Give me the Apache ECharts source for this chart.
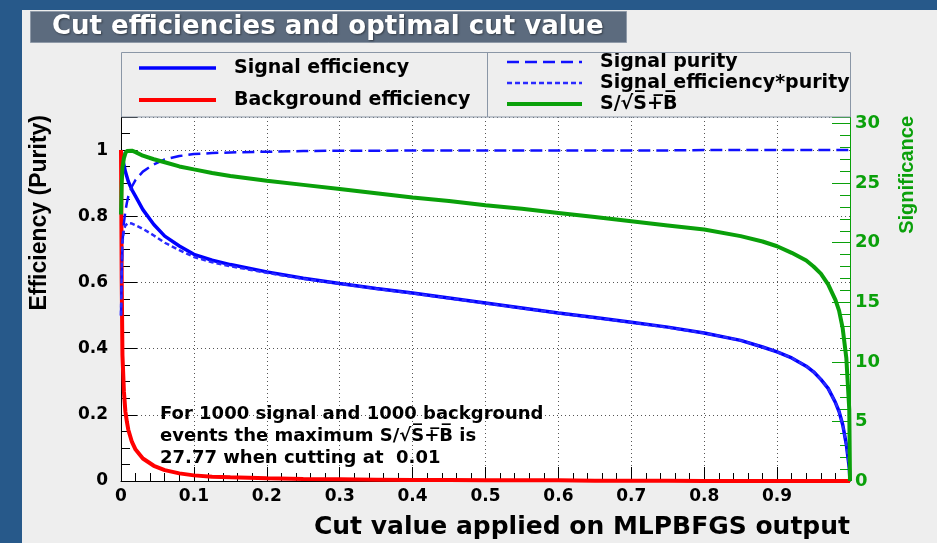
<!DOCTYPE html>
<html>
<head>
<meta charset="utf-8">
<title>Cut efficiencies and optimal cut value</title>
<script src="https://cdn.jsdelivr.net/npm/echarts@6/dist/echarts.min.js"></script>
<style>
  html, body { margin: 0; padding: 0; background: #27598a; }
  #chart { width: 937px; height: 543px; }
</style>
</head>
<body>
<div id="chart"></div>
<script>
// Cut values on the MLPBFGS classifier output
const cuts = [0, 0.001, 0.002, 0.004, 0.006, 0.008, 0.01, 0.015, 0.02, 0.03, 0.045, 0.06, 0.08,
  0.1, 0.125, 0.15, 0.2, 0.25, 0.3, 0.35, 0.4, 0.45, 0.5, 0.55, 0.6, 0.65, 0.7, 0.75, 0.8,
  0.85, 0.88, 0.9, 0.92, 0.94, 0.95, 0.96, 0.97, 0.98, 0.985, 0.99, 0.995, 0.999, 1.0];

const signalEff = [1.0, 0.99, 0.975, 0.955, 0.935, 0.92, 0.905, 0.88, 0.86, 0.82, 0.775, 0.74, 0.71,
  0.685, 0.667, 0.654, 0.632, 0.613, 0.597, 0.582, 0.568, 0.553, 0.538, 0.523, 0.508, 0.494, 0.48, 0.465, 0.447,
  0.425, 0.405, 0.39, 0.372, 0.347, 0.33, 0.307, 0.28, 0.237, 0.21, 0.17, 0.11, 0.04, 0];

const backgroundEff = [1.0, 0.6, 0.38, 0.27, 0.21, 0.18, 0.155, 0.118, 0.095, 0.068, 0.046, 0.033, 0.023,
  0.017, 0.013, 0.011, 0.008, 0.006, 0.005, 0.004, 0.003, 0.003, 0.002, 0.002, 0.002, 0.001, 0.001, 0.001, 0,
  0, 0, 0, 0, 0, 0, 0, 0, 0, 0, 0, 0, 0, 0];

const purity = [0.5, 0.62, 0.72, 0.78, 0.815, 0.84, 0.86, 0.89, 0.91, 0.935, 0.957, 0.972, 0.982,
  0.988, 0.991, 0.993, 0.995, 0.997, 0.998, 0.998, 0.999, 0.999, 0.999, 0.999, 0.999, 0.999, 0.999, 0.999, 1.0,
  1.0, 1.0, 1.0, 1.0, 1.0, 1.0, 1.0, 1.0, 1.0, 1.0, 1.0, 1.0, 1.0, 1.0];

const effTimesPurity = [0.5, 0.65, 0.72, 0.76, 0.772, 0.778, 0.78, 0.778, 0.773, 0.762, 0.742, 0.72, 0.698,
  0.677, 0.661, 0.649, 0.629, 0.611, 0.596, 0.581, 0.567, 0.552, 0.537, 0.522, 0.507, 0.493, 0.479, 0.464, 0.447,
  0.425, 0.405, 0.39, 0.372, 0.347, 0.33, 0.307, 0.28, 0.237, 0.21, 0.17, 0.11, 0.04, 0];

const significance = [22.36, 25.0, 26.3, 27.1, 27.5, 27.7, 27.77, 27.72, 27.6, 27.3, 27.0, 26.75, 26.4,
  26.15, 25.85, 25.6, 25.2, 24.85, 24.5, 24.15, 23.8, 23.5, 23.15, 22.85, 22.5, 22.15, 21.8, 21.45, 21.1,
  20.55, 20.1, 19.7, 19.15, 18.5, 18.0, 17.4, 16.5, 15.2, 14.3, 12.8, 10.3, 6.0, 0];

const maxSignificance = 27.77;
const bestCut = 0.01;
const nSignal = 1000;
const nBackground = 1000;

const sigName = 'S/\u221AS\u0305+\u0305B\u0305';
const FONT = '"DejaVu Sans", "Liberation Sans", sans-serif';

const pairs = ys => cuts.map((c, i) => [c, ys[i]]);

const chart = echarts.init(document.getElementById('chart'), null, { renderer: 'canvas' });

const legendText = {
  fontFamily: FONT, fontWeight: 'bold', fontSize: 19, color: '#000',
  lineHeight: 20, padding: [0, 0, 0, 13]
};

chart.setOption({
  backgroundColor: '#27598a',
  animation: false,
  title: {
    text: 'Cut efficiencies and optimal cut value',
    left: 30, top: 11,
    backgroundColor: '#5c6b7e',
    borderColor: '#8f9aa8', borderWidth: 1,
    padding: [3, 23, 3, 22],
    textStyle: {
      color: '#ffffff', fontFamily: FONT, fontWeight: 'bold', fontSize: 26, lineHeight: 26,
      textShadowColor: 'rgba(0,0,0,0.45)', textShadowBlur: 2, textShadowOffsetX: 1, textShadowOffsetY: 1
    }
  },
  legend: [
    {
      data: ['Signal efficiency', 'Background efficiency'],
      orient: 'vertical', left: 137, top: 58, padding: 0,
      itemWidth: 77, itemHeight: 14, itemGap: 12,
      selectedMode: false,
      itemStyle: { opacity: 0 },
      lineStyle: { width: 'inherit' },
      textStyle: legendText
    },
    {
      data: ['Signal purity', 'Signal efficiency*purity', sigName],
      orient: 'vertical', left: 505, top: 52, padding: 0,
      itemWidth: 75, itemHeight: 14, itemGap: 1,
      selectedMode: false,
      itemStyle: { opacity: 0 },
      lineStyle: { width: 'inherit' },
      textStyle: legendText
    }
  ],
  grid: {
    left: 121, right: 87, top: 117, bottom: 62,
    show: true, backgroundColor: '#ffffff', borderWidth: 0
  },
  xAxis: {
    type: 'value', min: 0, max: 1, interval: 0.1,
    axisLine: { lineStyle: { color: '#000', width: 1 } },
    axisTick: { inside: true, length: 14, lineStyle: { color: '#000' } },
    minorTick: { show: true, splitNumber: 5, length: 8, lineStyle: { color: '#000' } },
    axisLabel: {
      margin: 7, showMaxLabel: false,
      fontFamily: FONT, fontWeight: 'bold', fontSize: 17, color: '#000'
    },
    splitLine: { show: true, lineStyle: { color: '#555', type: [1, 3], width: 1 } },
    name: 'Cut value applied on MLPBFGS output',
    nameLocation: 'end', nameGap: 0,
    nameTextStyle: {
      align: 'right', verticalAlign: 'top', padding: [34, 0, 0, 0],
      fontFamily: FONT, fontWeight: 'bold', fontSize: 25, color: '#000'
    }
  },
  yAxis: [
    {
      type: 'value', min: 0, max: 1.1, interval: 0.2,
      axisLine: { show: true, lineStyle: { color: '#000', width: 1 } },
      axisTick: { show: true, inside: true, length: 16, lineStyle: { color: '#000' } },
      minorTick: { show: true, splitNumber: 4, length: 9, lineStyle: { color: '#000' } },
      axisLabel: {
        margin: 13, showMaxLabel: false,
        fontFamily: FONT, fontWeight: 'bold', fontSize: 17, color: '#000'
      },
      splitLine: { show: true, lineStyle: { color: '#555', type: [1, 3], width: 1 } },
      name: 'Efficiency (Purity)',
      nameLocation: 'end', nameGap: 2, nameRotate: 90,
      nameTextStyle: {
        align: 'right', verticalAlign: 'bottom', padding: [0, 0, 70, 0],
        fontFamily: '"Liberation Sans", Arial, sans-serif', fontWeight: 'bold', fontSize: 23, color: '#000'
      }
    },
    {
      type: 'value', position: 'right', min: 0, max: maxSignificance * 1.1, interval: 5,
      axisLine: { show: true, lineStyle: { color: '#0aa00a', width: 1 } },
      axisTick: { show: true, inside: true, length: 18, lineStyle: { color: '#0aa00a' } },
      minorTick: { show: true, splitNumber: 5, length: 10, lineStyle: { color: '#0aa00a' } },
      axisLabel: {
        margin: 5, showMaxLabel: false,
        fontFamily: FONT, fontWeight: 'bold', fontSize: 18, color: '#0aa00a'
      },
      splitLine: { show: false },
      name: 'Significance',
      nameLocation: 'end', nameGap: 1, nameRotate: 90,
      nameTextStyle: {
        align: 'right', verticalAlign: 'top', padding: [47, 0, 0, 0],
        fontFamily: '"Liberation Sans", Arial, sans-serif', fontWeight: 'bold', fontSize: 20, color: '#0aa00a'
      }
    }
  ],
  graphic: [
    {
      type: 'rect', z: -100, silent: true,
      shape: { x: 22, y: 10, width: 915, height: 533 },
      style: { fill: '#eeeeee' }
    },
    {
      type: 'rect', z: 5, silent: true,
      shape: { x: 121.5, y: 52.5, width: 729, height: 64.5 },
      style: { fill: 'none', stroke: '#8a96a6', lineWidth: 1 }
    },
    {
      type: 'line', z: 5, silent: true,
      shape: { x1: 487.5, y1: 52.5, x2: 487.5, y2: 117 },
      style: { stroke: '#8a96a6', lineWidth: 1 }
    },
    {
      type: 'text', z: 20, silent: true,
      x: 160, y: 403,
      style: {
        text: 'For ' + nSignal + ' signal and ' + nBackground + ' background\n' +
              'events the maximum ' + sigName + ' is\n' +
              maxSignificance.toFixed(2) + ' when cutting at  ' + bestCut.toFixed(2),
        font: 'bold 18px ' + FONT,
        fill: '#000', lineHeight: 22
      }
    }
  ],
  series: [
    {
      name: 'Signal efficiency', type: 'line', data: pairs(signalEff),
      symbol: 'none', z: 2,
      lineStyle: { color: '#0000ff', width: 3.5 }, itemStyle: { color: '#0000ff' }
    },
    {
      name: 'Background efficiency', type: 'line', data: pairs(backgroundEff),
      symbol: 'none', z: 3,
      lineStyle: { color: '#ff0000', width: 4 }, itemStyle: { color: '#ff0000' }
    },
    {
      name: 'Signal purity', type: 'line', data: pairs(purity),
      symbol: 'none', z: 4,
      lineStyle: { color: '#1010ff', width: 2.5, type: [12, 6] }, itemStyle: { color: '#1010ff' }
    },
    {
      name: 'Signal efficiency*purity', type: 'line', data: pairs(effTimesPurity),
      symbol: 'none', z: 4,
      lineStyle: { color: '#2a2aff', width: 2.5, type: [5, 3] }, itemStyle: { color: '#2a2aff' }
    },
    {
      name: sigName, type: 'line', yAxisIndex: 1, data: pairs(significance),
      symbol: 'none', z: 5,
      lineStyle: { color: '#0aa00a', width: 4 }, itemStyle: { color: '#0aa00a' }
    }
  ]
});
</script>
</body>
</html>
